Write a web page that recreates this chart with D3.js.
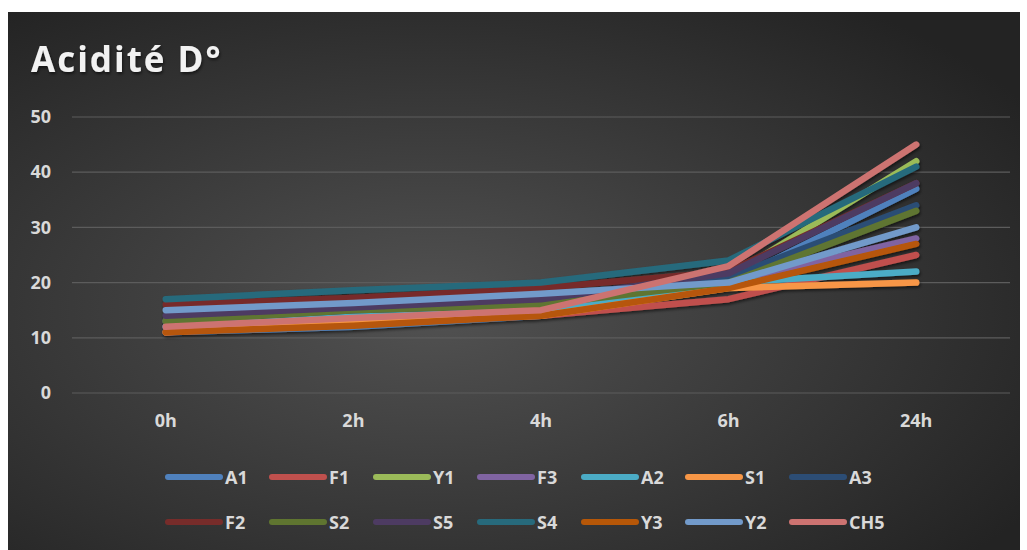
<!DOCTYPE html>
<html>
<head>
<meta charset="utf-8">
<script src="https://cdn.jsdelivr.net/npm/d3@7"></script>
<style>
  body { margin: 0; background: #fff; }
  text { font-family: "Open Sans", "Liberation Sans", sans-serif; font-weight: bold; }
</style>
</head>
<body>
<div id="chart"></div>
<script>
// Données
const times = ['0h', '2h', '4h', '6h', '24h']
const series = ['A1', 'F1', 'Y1', 'F3', 'A2', 'S1', 'A3', 'F2', 'S2', 'S5', 'S4', 'Y3', 'Y2', 'CH5']
const colors = ['#4F81BD', '#C0504D', '#9BBB59', '#8064A2', '#4BACC6', '#F79646', '#2C4D75',
                '#772C2A', '#5F7530', '#4D3B62', '#276A7C', '#B65708', '#729ACA', '#CD7371']
const A1  = [11, 12, 14, 20, 37]
const F1  = [11, 12.5, 14, 17, 25]
const Y1  = [13, 15, 16, 21, 42]
const F3  = [12, 14, 15, 20, 28]
const A2  = [12, 14, 15, 20, 22]
const S1  = [11, 13, 14, 19, 20]
const A3  = [13, 15, 16, 21, 34]
const F2  = [16, 17.2, 19, 22, 38]
const S2  = [13, 15, 16, 20, 33]
const S5  = [14, 15.5, 17, 21.7, 38]
const S4  = [17, 18.6, 20, 24, 41]
const Y3  = [11, 12.2, 14, 19, 27]
const Y2  = [15, 16.3, 18, 20, 30]
const CH5 = [12, 13.6, 15, 23, 45]
const values = [A1, F1, Y1, F3, A2, S1, A3, F2, S2, S5, S4, Y3, Y2, CH5]
const yTicks = [0, 10, 20, 30, 40, 50]

const width = 1027
const height = 550

const svg = d3.select('#chart')
    .append('svg')
    .attr('width', width)
    .attr('height', height)

const defs = svg.append('defs')

// Fond en dégradé
const grad = defs.append('radialGradient')
    .attr('id', 'bg')
    .attr('cx', '42%').attr('cy', '55%').attr('r', '70%')
grad.append('stop').attr('offset', '0%').attr('stop-color', '#525252')
grad.append('stop').attr('offset', '100%').attr('stop-color', '#232323')

const shadow = defs.append('filter')
    .attr('id', 'shadow')
    .attr('x', '-10%').attr('y', '-10%').attr('width', '120%').attr('height', '130%')
shadow.append('feDropShadow')
    .attr('dx', 1).attr('dy', 2).attr('stdDeviation', 1.5)
    .attr('flood-color', '#000').attr('flood-opacity', 0.55)

svg.append('rect')
    .attr('x', 8).attr('y', 12)
    .attr('width', 1012).attr('height', 540)
    .attr('fill', 'url(#bg)')

// Titre
svg.append('text')
    .attr('x', 31).attr('y', 72)
    .attr('fill', '#f2f2f2')
    .attr('font-size', 35)
    .attr('letter-spacing', 2)
    .attr('filter', 'url(#shadow)')
    .text('Acidité D°')

// Echelles
const x = d3.scaleBand()
    .domain(times)
    .range([72, 1010])
const y = d3.scaleLinear()
    .domain([0, 50])
    .range([393, 117])
const cx = d => x(d) + x.bandwidth() / 2

// Grille
svg.append('g')
    .selectAll('line')
    .data(yTicks)
    .enter()
    .append('line')
    .attr('x1', 72).attr('x2', 1010)
    .attr('y1', d => y(d)).attr('y2', d => y(d))
    .attr('stroke', '#5c5c5c')
    .attr('stroke-width', 1.2)

// Axe Y
const axisY = d3.axisLeft(y).tickValues(yTicks).tickSize(0).tickPadding(0)
const gY = svg.append('g')
    .attr('transform', 'translate(51, 0)')
    .call(axisY)
gY.select('.domain').remove()
gY.selectAll('text')
    .attr('fill', '#d9d9d9')
    .attr('font-size', 18)
    .attr('font-family', '"Open Sans", sans-serif')
    .attr('font-weight', 'bold')

// Axe X
const axisX = d3.axisBottom(x).tickSize(0).tickPadding(0)
const gX = svg.append('g')
    .attr('transform', 'translate(0, 414)')
    .call(axisX)
gX.select('.domain').remove()
gX.selectAll('text')
    .attr('fill', '#d9d9d9')
    .attr('font-size', 18)
    .attr('font-family', '"Open Sans", sans-serif')
    .attr('font-weight', 'bold')

// Lignes
const line = d3.line()
    .x((d, i) => cx(times[i]))
    .y(d => y(d))

svg.append('g')
    .attr('filter', 'url(#shadow)')
    .selectAll('path')
    .data(values)
    .enter()
    .append('path')
    .attr('d', d => line(d))
    .attr('fill', 'none')
    .attr('stroke', (d, i) => colors[i])
    .attr('stroke-width', 6.5)
    .attr('stroke-linecap', 'round')
    .attr('stroke-linejoin', 'round')

// Légende
const legend = svg.append('g')
    .selectAll('g')
    .data(series)
    .enter()
    .append('g')
    .attr('transform', (d, i) => `translate(${168 + (i % 7) * 104}, ${i < 7 ? 477 : 522})`)
legend.append('line')
    .attr('x1', 0).attr('x2', 52)
    .attr('stroke', (d, i) => colors[i])
    .attr('stroke-width', 6)
    .attr('stroke-linecap', 'round')
legend.append('text')
    .attr('x', 57).attr('y', 6.5)
    .attr('fill', '#d9d9d9')
    .attr('font-size', 18)
    .text(d => d)
</script>
</body>
</html>
